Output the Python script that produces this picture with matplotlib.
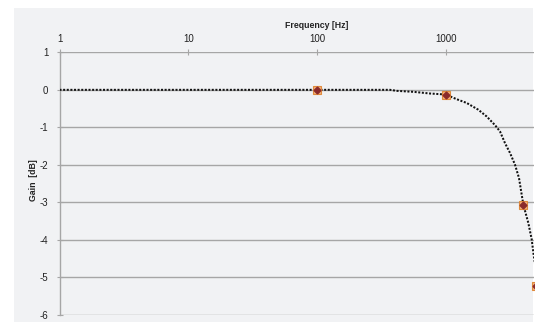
import matplotlib
matplotlib.use("Agg")
import matplotlib.pyplot as plt
from matplotlib.patches import Rectangle
from matplotlib.ticker import FixedLocator, NullLocator

# ---- data ----
curve_freq = [1, 10, 100, 370, 417, 561, 757, 1000, 1220, 1459, 1795, 2085,
              2420, 2648, 2894, 3164, 3457, 3718, 4017, 4395, 4669, 4808, 5000]
curve_gain = [0.0, 0.0, 0.0, 0.0, -0.027, -0.053, -0.098, -0.125, -0.25, -0.35,
              -0.53, -0.71, -0.94, -1.11, -1.42, -1.68, -1.99, -2.35, -3.06,
              -3.55, -3.99, -4.34, -4.75]
meas_freq = [100, 1000, 4000, 5000]
meas_gain = [0.0, -0.13, -3.06, -5.23]
x_ticks = [1, 10, 100, 1000]
x_tick_labels = ["1", "10", "100", "1000"]
y_ticks = [1, 0, -1, -2, -3, -4, -5, -6]

W, H = 542, 322
fig = plt.figure(figsize=(W / 100, H / 100), dpi=100)
fig.patch.set_facecolor("white")
fig.patches.append(Rectangle((14 / W, 0), (533 - 14) / W, 1 - 8 / H,
                             transform=fig.transFigure, facecolor="#f1f2f4",
                             edgecolor="none", zorder=-5))

font = "Liberation Sans"
ax = fig.add_axes([59.5 / W, 1 - 315 / H, (533.5 - 59.5) / W, (315 - 52.3) / H])
ax.set_zorder(1)
ax.set_facecolor("none")
ax.set_xscale("log")
ax.set_xlim(1, 10 ** ((533.5 - 59.5) / 128.7))
ax.set_ylim(-6, 1)

ax.xaxis.set_major_locator(FixedLocator(x_ticks))
ax.xaxis.set_minor_locator(NullLocator())
ax.set_xticks(x_ticks, x_tick_labels)
ax.set_yticks(y_ticks, [str(v) for v in y_ticks])
ax.xaxis.tick_top()

for s in ["right", "bottom", "top"]:
    ax.spines[s].set_visible(False)
ax.spines["left"].set_color("#a6a6a6")
ax.spines["left"].set_linewidth(1.0)

ax.grid(axis="y", color="#a6a6a6", linewidth=1.0)
ax.set_axisbelow(True)
ax.tick_params(axis="both", direction="inout", length=4, width=0.8,
               color="#a6a6a6", labelsize=7, labelcolor="#222222")
ax.tick_params(axis="y", pad=6)
ax.tick_params(axis="x", pad=4)
for lab in ax.get_xticklabels() + ax.get_yticklabels():
    lab.set_fontfamily(font)

ax.plot(curve_freq, curve_gain, color="#111111", linewidth=1.45,
        linestyle=(0, (1, 0.8)), dash_capstyle="butt", zorder=3)
ax.plot(meas_freq, meas_gain, linestyle="none", marker="s", markersize=6,
        markerfacecolor="#f2b27a", markeredgecolor="#e08a3c",
        markeredgewidth=0.8, zorder=4)
ax.plot(meas_freq, meas_gain, linestyle="none", marker="D", markersize=3.5,
        markerfacecolor="#8b2a2a", markeredgecolor="#8b2a2a", zorder=5)

fig.text(317 / W, 1 - 25.5 / H, "Frequency [Hz]", ha="center", va="center",
         fontsize=6.3, fontweight="bold", family=font, color="#222222")
fig.text(33 / W, 1 - 180 / H, "Gain  [dB]", ha="center", va="center",
         rotation=90, fontsize=6.3, fontweight="bold", family=font, color="#222222")

fig.savefig("out.png", dpi=100, facecolor="white")
